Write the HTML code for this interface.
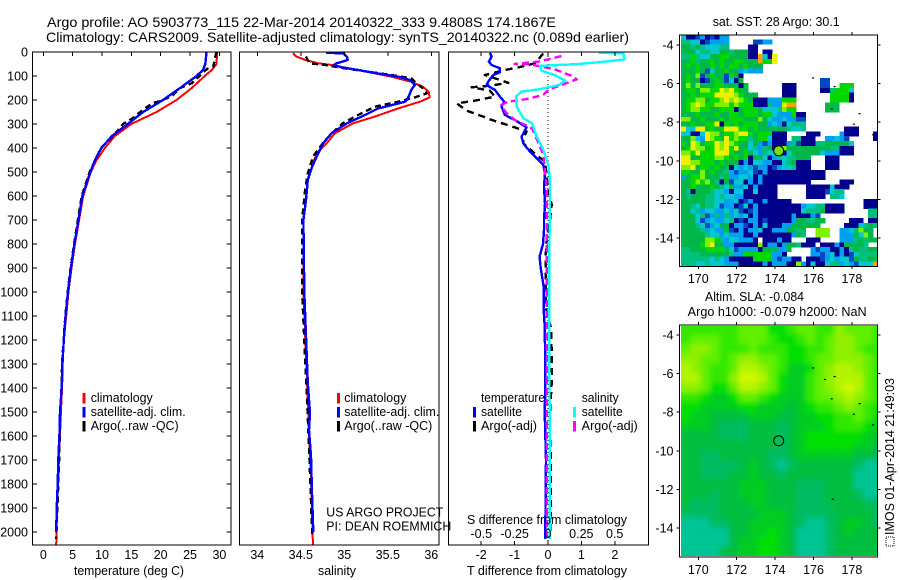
<!DOCTYPE html>
<html>
<head>
<meta charset="utf-8">
<title>Argo profile</title>
<style>
html,body{margin:0;padding:0;background:#fff;}
svg{display:block;}
text{font-family:"Liberation Sans",sans-serif;fill:#000;}
</style>
</head>
<body>
<svg id="chart" xmlns="http://www.w3.org/2000/svg" width="900" height="580" viewBox="0 0 900 580">
<defs>
<clipPath id="clip-sla"><rect x="681" y="326" width="196" height="230"/></clipPath>
<clipPath id="clip-p1"><rect x="33" y="52" width="198" height="493"/></clipPath>
<clipPath id="clip-p2"><rect x="240" y="52" width="199" height="493"/></clipPath>
<clipPath id="clip-p3"><rect x="449" y="52" width="199" height="493"/></clipPath>
<filter id="sla-smooth" filterUnits="userSpaceOnUse" x="640" y="290" width="280" height="300"><feGaussianBlur stdDeviation="2.6"/></filter>
</defs>
<rect x="0" y="0" width="900" height="580" fill="#fff"/>
<g id="layer-maps"></g>
<g id="layer-profiles"></g>
<g id="layer-axes"></g>
<g id="layer-text">
<text x="47" y="27" font-size="14" textLength="509" lengthAdjust="spacingAndGlyphs">Argo profile: AO 5903773_115 22-Mar-2014 20140322_333 9.4808S 174.1867E</text>
<text x="46" y="42" font-size="14" textLength="583" lengthAdjust="spacingAndGlyphs">Climatology: CARS2009. Satellite-adjusted climatology: synTS_20140322.nc (0.089d earlier)</text>
<text x="74" y="575" font-size="12.5" textLength="110" lengthAdjust="spacingAndGlyphs">temperature (deg C)</text>
<text x="318" y="575" font-size="12.5" textLength="38" lengthAdjust="spacingAndGlyphs">salinity</text>
<text x="467" y="575" font-size="12.5" textLength="160" lengthAdjust="spacingAndGlyphs">T difference from climatology</text>
<text x="467" y="524" font-size="12.5" textLength="160" lengthAdjust="spacingAndGlyphs">S difference from climatology</text>
<text x="326.3" y="516.7" font-size="12.5" textLength="117" lengthAdjust="spacingAndGlyphs">US ARGO PROJECT</text>
<text x="326.3" y="530.7" font-size="12.5" textLength="125" lengthAdjust="spacingAndGlyphs">PI: DEAN ROEMMICH</text>

<rect x="82.5" y="393" width="3" height="10.5" fill="#f00"/>
<rect x="82.5" y="407" width="3" height="10.5" fill="#00f"/>
<rect x="82.5" y="421" width="3" height="10.5" fill="#000"/>
<text x="90.7" y="402" font-size="12.5" textLength="62" lengthAdjust="spacingAndGlyphs">climatology</text>
<text x="90.7" y="416" font-size="12.5" textLength="95" lengthAdjust="spacingAndGlyphs">satellite-adj. clim.</text>
<text x="90.7" y="430" font-size="12.5" textLength="88" lengthAdjust="spacingAndGlyphs">Argo(..raw -QC)</text>

<rect x="337" y="393" width="3" height="10.5" fill="#f00"/>
<rect x="337" y="407" width="3" height="10.5" fill="#00f"/>
<rect x="337" y="421" width="3" height="10.5" fill="#000"/>
<text x="344.3" y="402" font-size="12.5" textLength="62" lengthAdjust="spacingAndGlyphs">climatology</text>
<text x="344.3" y="416" font-size="12.5" textLength="95" lengthAdjust="spacingAndGlyphs">satellite-adj. clim.</text>
<text x="344.3" y="430" font-size="12.5" textLength="88" lengthAdjust="spacingAndGlyphs">Argo(..raw -QC)</text>

<text x="481" y="402" font-size="12.5" textLength="64" lengthAdjust="spacingAndGlyphs">temperature</text>
<text x="581.7" y="402" font-size="12.5" textLength="37" lengthAdjust="spacingAndGlyphs">salinity</text>
<rect x="473" y="407" width="3" height="10.5" fill="#00f"/>
<rect x="473" y="421" width="3" height="10.5" fill="#000"/>
<rect x="573" y="407" width="3" height="10.5" fill="#0ff"/>
<rect x="573" y="421" width="3" height="10.5" fill="#f0f"/>
<text x="481" y="416" font-size="12.5" textLength="41" lengthAdjust="spacingAndGlyphs">satellite</text>
<text x="481" y="430" font-size="12.5" textLength="56" lengthAdjust="spacingAndGlyphs">Argo(-adj)</text>
<text x="581.7" y="416" font-size="12.5" textLength="41" lengthAdjust="spacingAndGlyphs">satellite</text>
<text x="581.7" y="430" font-size="12.5" textLength="56" lengthAdjust="spacingAndGlyphs">Argo(-adj)</text>

<text x="712.7" y="26" font-size="12.5" textLength="127" lengthAdjust="spacingAndGlyphs">sat. SST: 28 Argo: 30.1</text>
<text x="705" y="301" font-size="12.5" textLength="99" lengthAdjust="spacingAndGlyphs">Altim. SLA: -0.084</text>
<text x="687.7" y="316" font-size="12.5" textLength="179" lengthAdjust="spacingAndGlyphs">Argo h1000: -0.079 h2000: NaN</text>
<rect x="886" y="537" width="8" height="9" fill="none" stroke="#000" stroke-width="1" stroke-dasharray="1 1"/>
<text transform="translate(894 535) rotate(-90)" font-size="12.5" textLength="157" lengthAdjust="spacingAndGlyphs">IMOS 01-Apr-2014 21:49:03</text>
</g>
</svg>
<script>
/* ---------- Temperature panel (depth in m, temperature in deg C) ---------- */
const tempClimDepth=[0,50,75,100,150,200,250,300,350,400,450,500,600,700,800,900,1000,1100,1200,1300,1400,1500,1600,1700,1800,1900,2000,2054];
const tempClimValue=[29.6,29.5,28.7,27.5,25.3,22.7,19.3,15,12.2,10.5,9.1,8.1,6.8,6.1,5.4,4.8,4.3,3.9,3.5,3.3,3.2,3.0,2.85,2.65,2.5,2.35,2.25,2.2];
const tempSatDepth=[0,50,75,100,150,200,250,300,350,400,450,500,600,700,800,900,1000,1100,1200,1300,1400,1500,1600,1700,1800,1900,2000];
const tempSatValue=[27.8,27.6,27.2,26.1,23.3,20.4,17,14.4,11.7,9.9,8.8,8,6.65,6,5.3,4.7,4.2,3.8,3.5,3.25,3.13,2.85,2.75,2.55,2.45,2.28,2.2];
const tempArgoDepth=[0,30,60,70,100,130,150,180,200,215,240,275,300,330,350,400,500,600,700,800,900,1000,1100,1200,1300,1400,1500,1600,1700,1800,1900,2000,2030];
const tempArgoValue=[29.5,29.2,29,27.9,26.6,25.3,23.3,22.1,20.4,18.5,17,15.3,13.6,12.6,11.9,9.8,7.9,6.55,5.9,5.25,4.65,4.15,3.75,3.45,3.2,3.1,2.9,2.8,2.7,2.55,2.4,2.25,2.2];
/* ---------- Salinity panel ---------- */
const salClimDepth=[5,19,33,47,54,75,89,103,124,144,165,189,207,235,269,297,339,380,422,478,533,617,700,1000,1400,1600,1800,2000,2054];
const salClimValue=[34.41,34.45,34.55,34.7,34.855,35.16,35.35,35.54,35.77,35.9,35.97,35.98,35.87,35.62,35.35,35.1,34.89,34.8,34.68,34.63,34.58,34.56,34.53,34.53,34.575,34.595,34.62,34.635,34.64];
const salSatDepth=[3,6,19,33,40,47,54,64,75,89,103,117,138,158,186,207,235,262,297,339,380,422,478,533,617,700,1000,1380,1505,1575,1686,1853,2000];
const salSatValue=[34.79,34.985,35.03,35.04,34.98,34.91,34.88,34.97,35.16,35.38,35.62,35.76,35.81,35.77,35.74,35.7,35.39,35.24,35.03,34.85,34.76,34.7,34.63,34.58,34.56,34.53,34.54,34.58,34.606,34.594,34.617,34.63,34.644];
const salArgoDepth=[19,47,54,68,82,96,110,124,151,172,189,207,228,262,297,367,436,506,575,700,1000,1200,1400,1600,1800,2000,2020];
const salArgoValue=[34.56,34.6,34.78,35,35.27,35.54,35.77,35.81,35.9,35.95,35.81,35.62,35.35,35.16,34.98,34.78,34.64,34.58,34.55,34.515,34.515,34.54,34.565,34.59,34.61,34.63,34.63];
/* ---------- Difference panel ---------- */
const dTSatDepth=[3,19,40,54,68,85,96,124,138,158,186,207,228,262,288,314,353,381,415,471,506,561,631,700,742,800,853,900,978,1075,1144,1300,1408,1500,1700,2000,2030];
const dTSatValue=[-1.74,-1.69,-1.77,-1.69,-1.44,-1.44,-1.64,-1.79,-1.84,-1.59,-1.44,-1.31,-1.39,-1.29,-0.94,-0.64,-0.79,-0.74,-0.54,-0.14,-0.09,-0.12,-0.09,-0.12,-0.12,-0.15,-0.25,-0.22,-0.13,-0.13,-0.1,-0.08,-0.08,-0.1,-0.06,-0.08,-0.08];
const dTArgoDepth=[6,47,64,75,96,128,140,147,161,186,203,214,244,269,283,314,332,360,381,436,457,575,637,700,742,800,853,978,1075,1150,1250,1350,1408,1500,1600,1700,1800,1900,2000];
const dTArgoValue=[-0.14,-0.39,-0.89,-1.29,-1.89,-1.19,-1.69,-2.29,-1.74,-1.59,-2.19,-2.73,-2.44,-1.94,-1.69,-0.99,-0.64,-0.74,-0.74,-0.29,-0.09,0.01,0.11,0.06,0,-0.05,-0.07,-0.07,-0.05,0.09,0.11,0.12,0.1,0.06,0.06,0.09,0.08,0.08,0.07];
const dSSatDepth=[3,6,31,40,50,58,78,96,119,138,156,165,186,228,276,297,353,408,471,533,644,700,742,853,978,1214,1500,1800,2000,2030];
const dSSatValue=[0.378,0.565,0.5725,0.43,0.23,-0.06,-0.05,0.05,0.13,0.08,-0.07,-0.2,-0.24,-0.235,-0.185,-0.12,-0.085,-0.035,0.0025,0.015,0.015,0.012,0.012,0.01,0.01,0.01,0.012,0.012,0.012,0.012];
const dSArgoDepth=[17,40,50,53,72,100,114,158,179,197,207,221,249,283,318,394,429,506,561,700,900,1200,1400,1700,2020];
const dSArgoValue=[0.1,-0.07,-0.25,-0.12,0.05,0.18,0.215,0,-0.035,-0.17,-0.3,-0.35,-0.32,-0.25,-0.12,-0.06,-0.035,-0.02,-0.01,-0.01,-0.01,-0.01,-0.01,-0.01,-0.01];
/* ---------- Tick labels ---------- */
const depthTicks=[0,100,200,300,400,500,600,700,800,900,1000,1100,1200,1300,1400,1500,1600,1700,1800,1900,2000];
const tempTicks=[0,5,10,15,20,25,30];
const salTicks=[34,34.5,35,35.5,36];
const salTickLabels=["34","34.5","35","35.5","36"];
const dTTicks=[-2,-1,0,1,2];
const dTTickLabels=["-2","-1","0","1","2"];
const dSTicks=[-0.5,-0.25,0,0.25,0.5];
const dSTickLabels=["-0.5","-0.25","0","0.25","0.5"];
const lonTicks=[170,172,174,176,178];
const latTicks=[-4,-6,-8,-10,-12,-14];
/* ---------- Float position ---------- */
const floatLon=[174.1867];
const floatLat=[-9.4808];
/* ---------- Coast fragments (lon, lat) ---------- */
const islandLon=[175.98,177.1,176.95,178.4,178.1,179.1,177.0,176.6];
const islandLat=[-5.7,-6.15,-7.3,-7.55,-8.1,-8.65,-12.5,-6.3];
/* ---------- SST map: one row per 0.25 deg lat, one char per 0.25 deg lon; level 0 (cold) - 9 (warm), '.' no data ---------- */
const sstLevelRows=[
"3001201022",
"4433012222.....1122",
"5545433344....00",
"5553443355455500.00",
"44643355665555009308",
"55645565655665559668",
"56565565656656555",
"55565135565523222",
"5657156551650",
"5655015651305................11",
"57575556655505.......000.....11..666",
"56657766878655.......000.....0046663",
"5565666888876555.....000.......66660",
"566775667878765000222666.......66660",
"567876677767666000422899......555",
"567766556660566653334766......555",
"555655565566566656632226" + "00",
"775565556566655575322322" + "11",
"55655668065656665523203444",
"83388565688866565555554334........000",
"3300387756678865666000....000....2000...0",
"5573287658676645663000.44000..22321.....0",
"658756687876553521200024100044555553",
"568775687868553424505755555555544000",
"776866688865565324335035555553222000",
"885566677656560553024344555...000",
"887766656555020332200345000...000",
"778566565503232122012334000...000",
"665575655421223102000000000000",
"256675554522332020000000000000",
"55676754051330202" + "0000000000......000",
"55655565435223020" + "000......000003000",
"54055543320330030" + "000......00001344",
"54555443433220000" + "000......0000.443",
"55555443322301200" + "200000...............000",
"55435443122013020" + "0000000023344" + "0000....000",
"55342332232310120" + "0000000034445" + "0000.....44",
"55534124242323020" + "000000200021..........44",
"55531232234010220" + "100000255" + "4455.....000.004",
"55543123550221020" + "3000225" + "55555.....0003454",
"55554232251020223" + "0022255" + "45..777..2234755",
"55555433232220020" + "0000002" + "54..777..2225375",
"5555577642332220.000200...000....22245455",
"5555678552200000" + "70220" + "2554000.0002055554",
"44555666653122220555225" + "....21220020454455",
"444455555542266666622" + "0.....22123020134444",
"44444434320000066662122" + "00.000123233154455",
"44433433322200000202220072030034423213339"
];
/* ---------- Altimeter SLA map: one row per 0.5 deg lat, one char per 0.5 deg lon; level 0 (low) - 9 (high) ---------- */
const slaLevelRows=[
"555555666445665576665",
"566655666544565677665",
"677655565554455677655",
"776656776654456677765",
"876556887653346788765",
"886557998643356788865",
"776446887643356789865",
"554334665433356678765",
"443333443332345567654",
"433222233322334455654",
"333211122212333455543",
"222211122212344444433",
"222222222212344444332",
"221122222112333333221",
"221111232101222222100",
"221112232212222222000",
"222222333222111222000",
"222122333222111222100",
"211122233222111222211",
"111122223332111122221",
"000112233332100123321",
"000002233432000123222",
"000002334432000122222",
"000022334432000122222"
];

const NS="http://www.w3.org/2000/svg";
const layerMaps=document.getElementById("layer-maps");
const layerProfiles=document.getElementById("layer-profiles");
const layerAxes=document.getElementById("layer-axes");

/* axis functions */
function yDepth(d){return 52+0.24*d;}
function xTemp(t){return 43.3+5.87*t;}
function xSal(s){return 257.3+87*(s-34);}
function xDT(v){return 548+33.4*v;}
function xDS(v){return 548+133.4*v;}
function xLon(lon){return 698.3+19.2*(lon-170);}
function ySstLat(lat){return 45+19.3*(-4-lat);}
function ySlaLat(lat){return 335+19.3*(-4-lat);}

function makeEl(tag,attrs,parent){
  const el=document.createElementNS(NS,tag);
  for(const k in attrs){el.setAttribute(k,attrs[k]);}
  parent.appendChild(el);
  return el;
}
function drawLine(x1,y1,x2,y2,parent,name){
  const el=makeEl("line",{x1:x1,y1:y1,x2:x2,y2:y2,stroke:"#000","stroke-width":1,"shape-rendering":"crispEdges"},parent);
  
  
  return el;
}
function drawLabel(x,y,str,anchor,parent,name){
  const el=makeEl("text",{x:x,y:y,"font-size":12.5,"text-anchor":anchor},parent);
  el.textContent=str;
  
  
  return el;
}
function drawFrame(x,y,w,h,name){
  const el=makeEl("rect",{x:x,y:y,width:w,height:h,fill:"none",stroke:"#000","stroke-width":1,"shape-rendering":"crispEdges"},layerAxes);
  
  
}
function drawSeries(depths,values,xFn,color,width,dash,clip,name){
  const pts=depths.map(function(d,i){return xFn(values[i]).toFixed(1)+","+yDepth(d).toFixed(1);}).join(" ");
  const el=makeEl("polyline",{points:pts,fill:"none",stroke:color,"stroke-width":width,"clip-path":"url(#"+clip+")","stroke-linejoin":"round","shape-rendering":"crispEdges"},layerProfiles);
  if(dash){el.setAttribute("stroke-dasharray",dash);}
  
  
}

/* SST heatmap */
const sstColors={"0":"#00008c","1":"#0048c0","2":"#00a0f0","3":"#00c8d0","4":"#00c080","5":"#00b84a","6":"#00d800","7":"#80f000","8":"#f0f000","9":"#ffa000"};
const sstGroup=makeEl("g",{},layerMaps);


const cellLon=0.25, cellLat=0.25, mapLonStart=169.1, mapLatStart=-3.47;
sstLevelRows.forEach(function(row,r){
  for(let c=0;c<41&&c<row.length;c++){
    const code=row[c];
    if(code==="."){continue;}
    const x0=xLon(mapLonStart+c*cellLon), x1=xLon(mapLonStart+(c+1)*cellLon);
    const y0=ySstLat(mapLatStart-r*cellLat), y1=ySstLat(mapLatStart-(r+1)*cellLat);
    const cell=makeEl("rect",{x:x0.toFixed(2),y:y0.toFixed(2),width:(x1-x0+0.3).toFixed(2),height:(y1-y0+0.3).toFixed(2),fill:sstColors[code],"shape-rendering":"crispEdges"},sstGroup);
    
    
  }
});

/* SLA heatmap */
const slaColors={"0":"#00c494","1":"#00bc60","2":"#00be40","3":"#00cc20","4":"#00e000","5":"#30e800","6":"#60f000","7":"#90f000","8":"#b4f400","9":"#d0f800"};
const slaClip=makeEl("g",{"clip-path":"url(#clip-sla)"},layerMaps);


const slaGroup=makeEl("g",{filter:"url(#sla-smooth)"},slaClip);


slaLevelRows.forEach(function(row,r){
  for(let c=0;c<21;c++){
    let x0=xLon(mapLonStart+c*0.5), x1=xLon(mapLonStart+(c+1)*0.5);
    let y0=ySlaLat(-3.47-r*0.5), y1=ySlaLat(-3.47-(r+1)*0.5);
    if(c===0){x0-=20;}
    if(c===20){x1+=20;}
    if(r===0){y0-=20;}
    if(r===slaLevelRows.length-1){y1+=20;}
    const cell=makeEl("rect",{x:x0.toFixed(2),y:y0.toFixed(2),width:(x1-x0+0.3).toFixed(2),height:(y1-y0+0.3).toFixed(2),fill:slaColors[row[c]]},slaGroup);
    
    
  }
});

/* Coast fragments and float markers */
islandLon.forEach(function(lon,i){
  [ySstLat,ySlaLat].forEach(function(yFn){
    const mark=makeEl("rect",{x:(xLon(lon)-1).toFixed(1),y:(yFn(islandLat[i])-0.5).toFixed(1),width:2,height:1.2,fill:"#000"},layerMaps);
    
    
  });
});
const sstMarker=makeEl("circle",{cx:xLon(floatLon[0]),cy:ySstLat(floatLat[0]),r:5,fill:"#70e010",stroke:"#000","stroke-width":1},layerMaps);


const slaMarker=makeEl("circle",{cx:xLon(floatLon[0]),cy:ySlaLat(floatLat[0]),r:5,fill:"none",stroke:"#000","stroke-width":1},layerMaps);



/* Profile series */
drawSeries(tempClimDepth,tempClimValue,xTemp,"#f00",2,null,"clip-p1","temperature-climatology-line");
drawSeries(tempArgoDepth,tempArgoValue,xTemp,"#000",2.4,"6 4","clip-p1","temperature-argo-line");
drawSeries(tempSatDepth,tempSatValue,xTemp,"#00f",2.4,null,"clip-p1","temperature-satellite-line");

drawSeries(salClimDepth,salClimValue,xSal,"#f00",2,null,"clip-p2","salinity-climatology-line");
drawSeries(salArgoDepth,salArgoValue,xSal,"#000",2.4,"6 4","clip-p2","salinity-argo-line");
drawSeries(salSatDepth,salSatValue,xSal,"#00f",2.4,null,"clip-p2","salinity-satellite-line");

const zeroLine=makeEl("line",{x1:xDT(0),y1:52,x2:xDT(0),y2:545,stroke:"#000","stroke-width":1,"stroke-dasharray":"1 3","shape-rendering":"crispEdges"},layerProfiles);


drawSeries(dTArgoDepth,dTArgoValue,xDT,"#000",2.4,"7 5","clip-p3","t-difference-argo-line");
drawSeries(dTSatDepth,dTSatValue,xDT,"#00f",2.4,null,"clip-p3","t-difference-satellite-line");
drawSeries(dSArgoDepth,dSArgoValue,xDS,"#f0f",2.4,"7 4","clip-p3","s-difference-argo-line");
drawSeries(dSSatDepth,dSSatValue,xDS,"#0ff",2.4,null,"clip-p3","s-difference-satellite-line");

/* Frames */
drawFrame(32.5,52,198.5,493,"temperature-panel-frame");
drawFrame(239.5,52,199.5,493,"salinity-panel-frame");
drawFrame(448.5,52,200,493,"difference-panel-frame");
drawFrame(679.5,35,198,231.5,"sst-map-frame");
drawFrame(679.5,325,198,232,"sla-map-frame");

/* Depth axis */
depthTicks.forEach(function(d){
  const y=yDepth(d);
  drawLine(32.5,y,37,y,layerAxes,"depth-tick-left");
  drawLine(226.5,y,231,y,layerAxes,"depth-tick-right");
  drawLabel(28,y+4.5,String(d),"end",layerAxes,"depth-tick-label");
});
/* Temperature axis */
tempTicks.forEach(function(t){
  const x=xTemp(t);
  drawLine(x,52,x,56,layerAxes,"temperature-tick-top");
  drawLabel(x,559,String(t),"middle",layerAxes,"temperature-tick-label");
});
/* Salinity axis */
salTicks.forEach(function(s,i){
  const x=xSal(s);
  drawLine(x,52,x,56,layerAxes,"salinity-tick-top");
  drawLabel(x,559,salTickLabels[i],"middle",layerAxes,"salinity-tick-label");
});
/* Difference axes */
dTTicks.forEach(function(v,i){
  const x=xDT(v);
  drawLine(x,52,x,56,layerAxes,"t-difference-tick-top");
  drawLine(x,541,x,545,layerAxes,"t-difference-tick-bottom");
  drawLabel(x,559,dTTickLabels[i],"middle",layerAxes,"t-difference-tick-label");
});
dSTicks.forEach(function(v,i){
  drawLabel(xDS(v),538,dSTickLabels[i],"middle",layerAxes,"s-difference-tick-label");
});
/* Map axes */
lonTicks.forEach(function(lon){
  const x=xLon(lon);
  drawLine(x,32,x,35,layerAxes,"sst-lon-tick-top");
  drawLine(x,266.5,x,269,layerAxes,"sst-lon-tick-bottom");
  drawLabel(x,283,String(lon),"middle",layerAxes,"sst-lon-tick-label");
  drawLine(x,322,x,325,layerAxes,"sla-lon-tick-top");
  drawLine(x,557,x,560,layerAxes,"sla-lon-tick-bottom");
  drawLabel(x,574,String(lon),"middle",layerAxes,"sla-lon-tick-label");
});
latTicks.forEach(function(lat){
  const y1=ySstLat(lat), y2=ySlaLat(lat);
  drawLine(676.5,y1,679.5,y1,layerAxes,"sst-lat-tick-left");
  drawLine(877.5,y1,880.5,y1,layerAxes,"sst-lat-tick-right");
  drawLabel(673.5,y1+4.5,String(lat),"end",layerAxes,"sst-lat-tick-label");
  drawLine(676.5,y2,679.5,y2,layerAxes,"sla-lat-tick-left");
  drawLine(877.5,y2,880.5,y2,layerAxes,"sla-lat-tick-right");
  drawLabel(673.5,y2+4.5,String(lat),"end",layerAxes,"sla-lat-tick-label");
});
</script>
</body>
</html>
